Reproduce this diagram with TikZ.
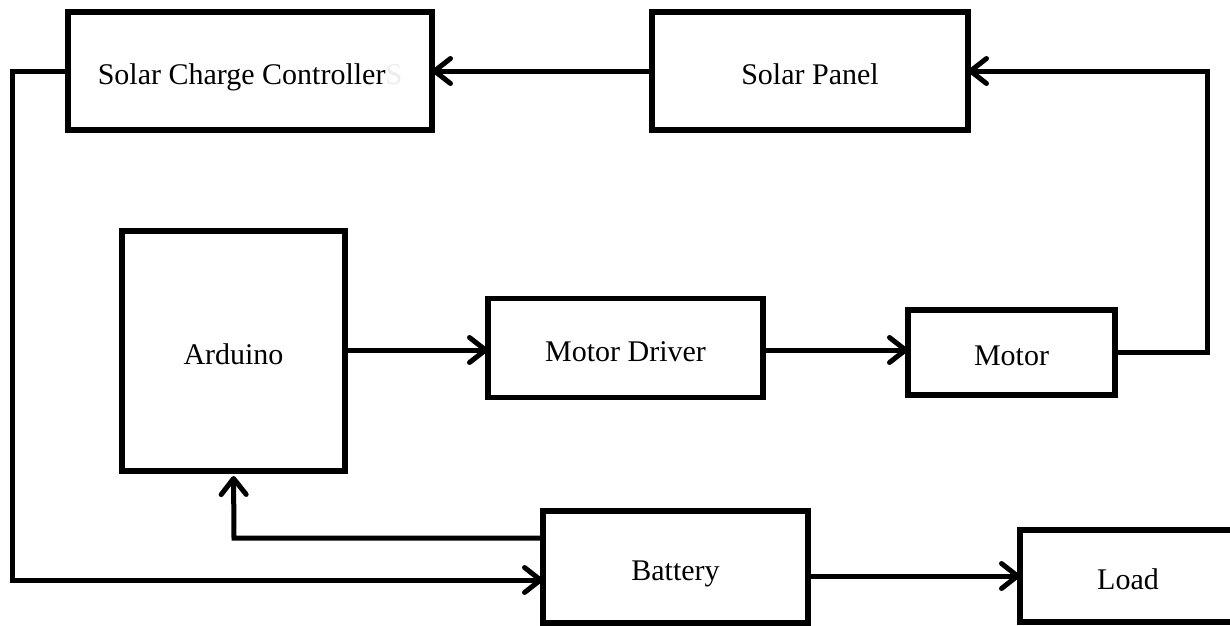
\documentclass[tikz,border=0pt]{standalone}
\usepackage{fontspec}
\setmainfont{Liberation Serif}
\usetikzlibrary{arrows.meta}
\begin{document}
\begin{tikzpicture}[x=1pt,y=-1pt,
  box/.style={draw, line width=5.5pt, rectangle, inner sep=0pt, outer sep=0pt,
    text height=26pt, text depth=0pt,
    font=\fontsize{30}{36}\selectfont},
  conn/.style={line width=5pt, line join=miter},
  arr/.style={conn, -{Straight Barb[length=16pt,width=25pt,line width=5pt,round]}}]
\useasboundingbox (0,0) rectangle (1230,625);
\clip (0,0) rectangle (1230,625);
\fill[white] (0,0) rectangle (1230,625);
% nodes
\node[box, minimum width=364pt, minimum height=118pt] (scc) at (250,71)
  {Solar Charge Controller\textcolor{black!7}{S}};
\node[box, minimum width=316pt, minimum height=118pt] (sp) at (810,71) {Solar Panel};
\node[box, minimum width=223pt, minimum height=240pt] (ard) at (233.5,351) {Arduino};
\node[box, minimum width=275pt, minimum height=99pt] (md) at (625.5,348) {Motor Driver};
\node[box, minimum width=207pt, minimum height=85pt] (mot) at (1011.5,352.5) {Motor};
\node[box, minimum width=265pt, minimum height=112pt] (bat) at (675.5,567) {Battery};
\node[box, minimum width=216pt, minimum height=92pt] (load) at (1128,576) {Load};
% corner coordinates
\coordinate (cR) at (1207,71);
\coordinate (cL) at (12,580);
\coordinate (cB) at (234,538);
\coordinate (cM) at (0,350);
% connectors
\draw[arr] (sp.west) -- (scc.east);
\draw[arr] (cM -| ard.east) -- (cM -| md.west);
\draw[arr] (cM -| md.east) -- (cM -| mot.west);
\draw[arr] (mot.east) -| (cR) -- (sp.east);
\draw[arr] (scc.west) -| (cL) -- (cL -| bat.west);
\draw[arr, shorten >=5pt] (cB -| bat.west) -- (cB) -- (ard.south);
\draw[arr] (bat.east |- load.west) -- (load.west);
\end{tikzpicture}
\end{document}
